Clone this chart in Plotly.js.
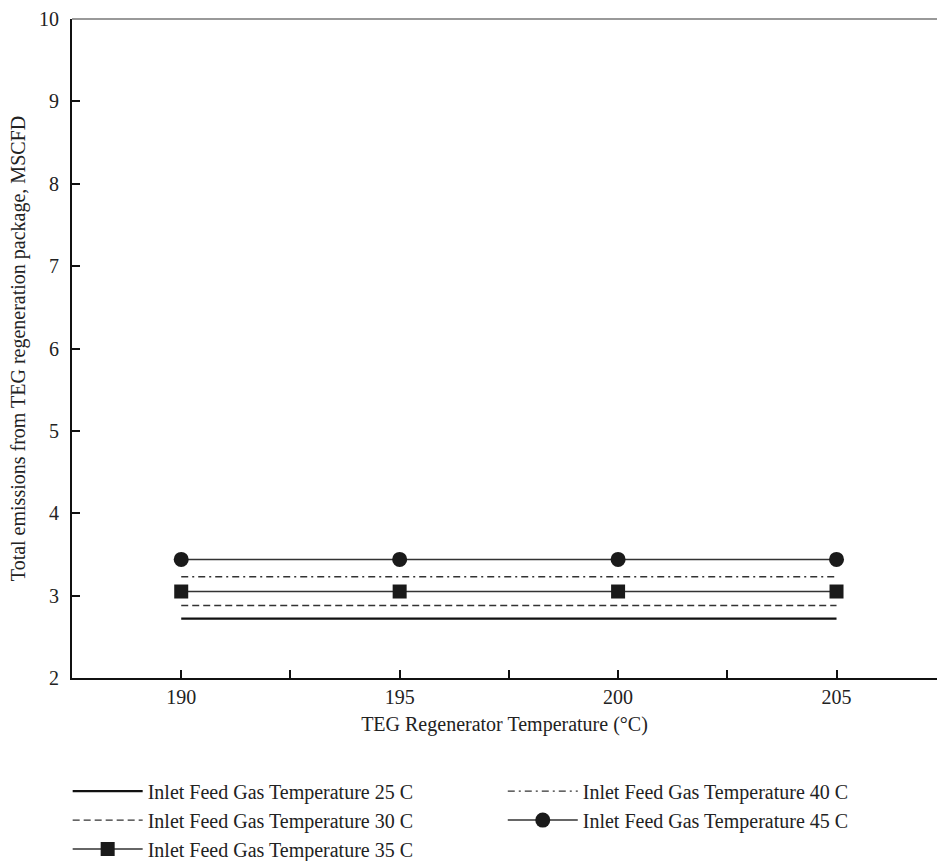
<!DOCTYPE html>
<html>
<head>
<meta charset="utf-8">
<script src="https://cdn.plot.ly/plotly-3.0.1.min.js"></script>
<style>html,body{margin:0;padding:0;background:#fff;}#chart{width:937px;height:861px;}</style>
</head>
<body>
<div id="chart"></div>
<script>
const regenTemp = [190, 195, 200, 205];
const seriesNames = [
  "Inlet Feed Gas Temperature 25 C",
  "Inlet Feed Gas Temperature 30 C",
  "Inlet Feed Gas Temperature 35 C",
  "Inlet Feed Gas Temperature 40 C",
  "Inlet Feed Gas Temperature 45 C"
];
const emis25 = [2.72, 2.72, 2.72, 2.72];
const emis30 = [2.88, 2.88, 2.88, 2.88];
const emis35 = [3.05, 3.05, 3.05, 3.05];
const emis40 = [3.23, 3.23, 3.23, 3.23];
const emis45 = [3.44, 3.44, 3.44, 3.44];
const xTicks = [190, 195, 200, 205];
const xMinorTicks = [192.5, 197.5, 202.5];
const yTicks = [2, 3, 4, 5, 6, 7, 8, 9, 10];

const FONT = '"Liberation Serif", "Times New Roman", serif';
const TXT = "#222";

const traces = [
  {x: regenTemp, y: emis25, name: seriesNames[0], mode: "lines",
   line: {color: "#111", width: 2.2}, legend: "legend"},
  {x: regenTemp, y: emis30, name: seriesNames[1], mode: "lines",
   line: {color: "#333", width: 1.4, dash: "7px,4px"}, legend: "legend"},
  {x: regenTemp, y: emis35, name: seriesNames[2], mode: "lines+markers",
   line: {color: "#333", width: 1.5}, marker: {symbol: "square", size: 14, color: "#1a1a1a"}, legend: "legend"},
  {x: regenTemp, y: emis40, name: seriesNames[3], mode: "lines",
   line: {color: "#333", width: 1.4, dash: "7px,4px,2px,4px"}, legend: "legend2"},
  {x: regenTemp, y: emis45, name: seriesNames[4], mode: "lines+markers",
   line: {color: "#333", width: 1.5}, marker: {symbol: "circle", size: 15, color: "#1a1a1a"}, legend: "legend2"}
];

const legendBase = {xanchor: "left", yanchor: "top", orientation: "v",
  font: {family: FONT, size: 20, color: TXT}, bgcolor: "rgba(0,0,0,0)", tracegroupgap: 0, itemwidth: 70};

const layout = {
  width: 937, height: 861,
  margin: {l: 72, r: 0, t: 19, b: 183, autoexpand: false},
  paper_bgcolor: "#fff", plot_bgcolor: "#fff",
  font: {family: FONT, size: 20, color: TXT},
  showlegend: true,
  xaxis: {
    range: [187.5, 207.3],
    automargin: false,
    tickvals: xTicks, ticktext: xTicks.map(String),
    ticks: "inside", ticklen: 8, tickwidth: 2, tickcolor: "#111",
    minor: {tickvals: xMinorTicks, ticks: "inside", ticklen: 8, tickwidth: 2, tickcolor: "#111"},
    showline: true, linecolor: "#111", linewidth: 2,
    showgrid: false, zeroline: false,
    ticklabelstandoff: 0,
    tickfont: {family: FONT, size: 20, color: TXT},
    title: {text: "TEG Regenerator Temperature (°C)", font: {family: FONT, size: 20, color: TXT}, standoff: 10}
  },
  yaxis: {
    range: [2, 10],
    automargin: false,
    tickvals: yTicks, ticktext: yTicks.map(String),
    ticks: "inside", ticklen: 8, tickwidth: 2, tickcolor: "#111",
    showline: true, linecolor: "#111", linewidth: 2,
    showgrid: false, zeroline: false,
    ticklabelstandoff: 7,
    tickfont: {family: FONT, size: 20, color: TXT},
    title: {text: "Total emissions from TEG regeneration package, MSCFD", font: {family: FONT, size: 20, color: TXT}, standoff: 8}
  },
  shapes: [
    {type: "line", xref: "paper", yref: "paper", x0: 0, x1: 1, y0: 1, y1: 1, line: {color: "#777", width: 1.5}}
  ],
  legend: Object.assign({}, legendBase, {x: -0.005, y: -0.142}),
  legend2: Object.assign({}, legendBase, {x: 0.498, y: -0.142})
};

Plotly.newPlot("chart", traces, layout, {displayModeBar: false, staticPlot: true});
</script>
</body>
</html>
